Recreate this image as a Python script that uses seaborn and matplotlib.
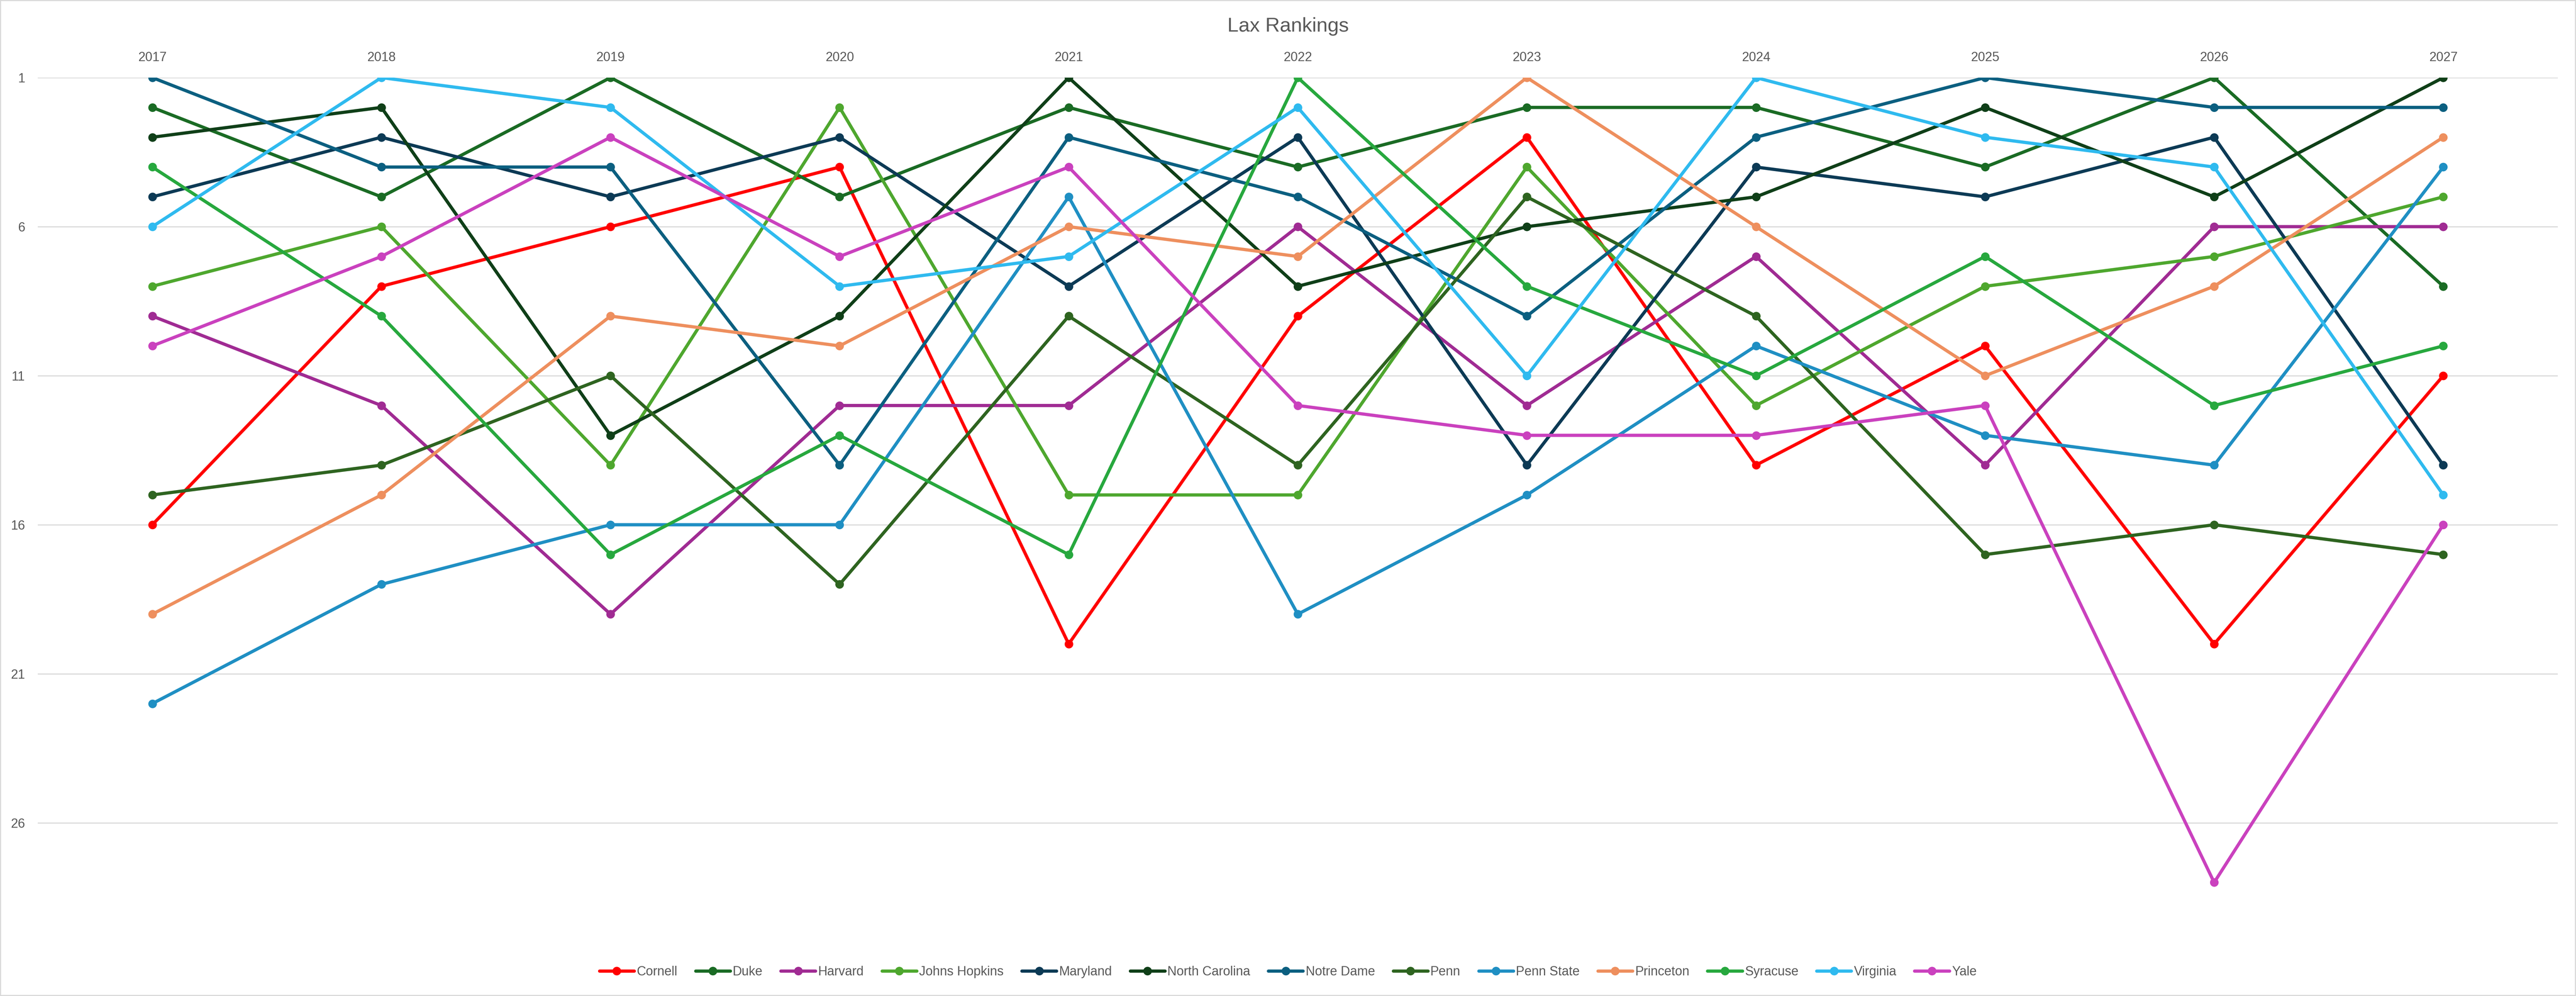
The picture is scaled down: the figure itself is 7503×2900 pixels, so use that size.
import matplotlib
matplotlib.use("Agg")
import matplotlib.pyplot as plt
import seaborn as sns
import pandas as pd
from matplotlib.lines import Line2D
from matplotlib.patches import Rectangle

# ---------------- data ----------------
years = [2017, 2018, 2019, 2020, 2021, 2022, 2023, 2024, 2025, 2026, 2027]
teams = ["Cornell", "Duke", "Harvard", "Johns Hopkins", "Maryland", "North Carolina",
         "Notre Dame", "Penn", "Penn State", "Princeton", "Syracuse", "Virginia", "Yale"]

cornell        = [16, 8, 6, 4, 20, 9, 3, 14, 10, 20, 11]
duke           = [2, 5, 1, 5, 2, 4, 2, 2, 4, 1, 8]
harvard        = [9, 12, 19, 12, 12, 6, 12, 7, 14, 6, 6]
johns_hopkins  = [8, 6, 14, 2, 15, 15, 4, 12, 8, 7, 5]
maryland       = [5, 3, 5, 3, 8, 3, 14, 4, 5, 3, 14]
north_carolina = [3, 2, 13, 9, 1, 8, 6, 5, 2, 5, 1]
notre_dame     = [1, 4, 4, 14, 3, 5, 9, 3, 1, 2, 2]
penn           = [15, 14, 11, 18, 9, 14, 5, 9, 17, 16, 17]
penn_state     = [22, 18, 16, 16, 5, 19, 15, 10, 13, 14, 4]
princeton      = [19, 15, 9, 10, 6, 7, 1, 6, 11, 8, 3]
syracuse       = [4, 9, 17, 13, 17, 1, 8, 11, 7, 12, 10]
virginia       = [6, 1, 2, 8, 7, 2, 11, 1, 3, 4, 15]
yale           = [10, 7, 3, 7, 4, 12, 13, 13, 12, 28, 16]

y_ticks = [1, 6, 11, 16, 21, 26]

colors = ["#FF0000", "#1A6B24", "#A02B93", "#4EA72E", "#0C3A55", "#0F3F18",
          "#0B5F80", "#2E6420", "#1F8FC3", "#EE8F5E", "#27A83E", "#2FBAEF", "#CA41BE"]

series = [cornell, duke, harvard, johns_hopkins, maryland, north_carolina,
          notre_dame, penn, penn_state, princeton, syracuse, virginia, yale]

rows = []
for t, vals in zip(teams, series):
    for yr, v in zip(years, vals):
        rows.append({"Year": yr, "Rank": v, "Team": t})
df = pd.DataFrame(rows)
palette = dict(zip(teams, colors))

# ---------------- style ----------------
sns.set_style("white")
plt.rcParams["font.family"] = ["Liberation Sans", "DejaVu Sans"]
text_color = "#595959"

W, H = 7503, 2900
DPI = 300
fig = plt.figure(figsize=(W / DPI, H / DPI), dpi=DPI)
fig.patch.set_facecolor("white")

left, right = 110, 7450
top, bottom = 226, 2743
ax = fig.add_axes([left / W, 1 - bottom / H, (right - left) / W, (bottom - top) / H])

sns.lineplot(data=df, x="Year", y="Rank", hue="Team", hue_order=teams,
             palette=palette, marker="o", markersize=6, markeredgewidth=0,
             linewidth=2.25, legend=False, ax=ax, zorder=3)

ax.set_xlim(2016.5, 2027.5)
ax.set_ylim(30, 1)
ax.set_xticks(years)
ax.set_xticklabels([str(y) for y in years])
ax.xaxis.tick_top()
ax.set_yticks(y_ticks)
ax.set_yticklabels([str(v) for v in y_ticks])
ax.tick_params(axis="x", length=0, pad=9.5, labelsize=9, labelcolor=text_color)
ax.tick_params(axis="y", length=0, pad=9, labelsize=9, labelcolor=text_color)
ax.set_xlabel("")
ax.set_ylabel("")
ax.grid(axis="y", color="#D9D9D9", linewidth=0.75)
ax.grid(axis="x", visible=False)
ax.set_axisbelow(True)
for s in ax.spines.values():
    s.set_visible(False)

fig.text(0.5, 1 - 77 / H, "Lax Rankings", ha="center", va="center",
         fontsize=14, color=text_color)

handles = [Line2D([0], [0], color=c, lw=2.25, marker="o", markersize=6,
                  markeredgewidth=0) for c in colors]
fig.legend(handles, teams, loc="center", bbox_to_anchor=(0.5, 1 - 2830 / H),
           ncol=len(teams), frameon=False, fontsize=9, handlelength=2.7,
           handletextpad=0.2, columnspacing=1.4, labelcolor=text_color)

fig.add_artist(Rectangle((0, 0), 1, 1, transform=fig.transFigure, fill=False,
                         edgecolor="#D9D9D9", linewidth=1.5))

fig.savefig("out.png", dpi=DPI)
